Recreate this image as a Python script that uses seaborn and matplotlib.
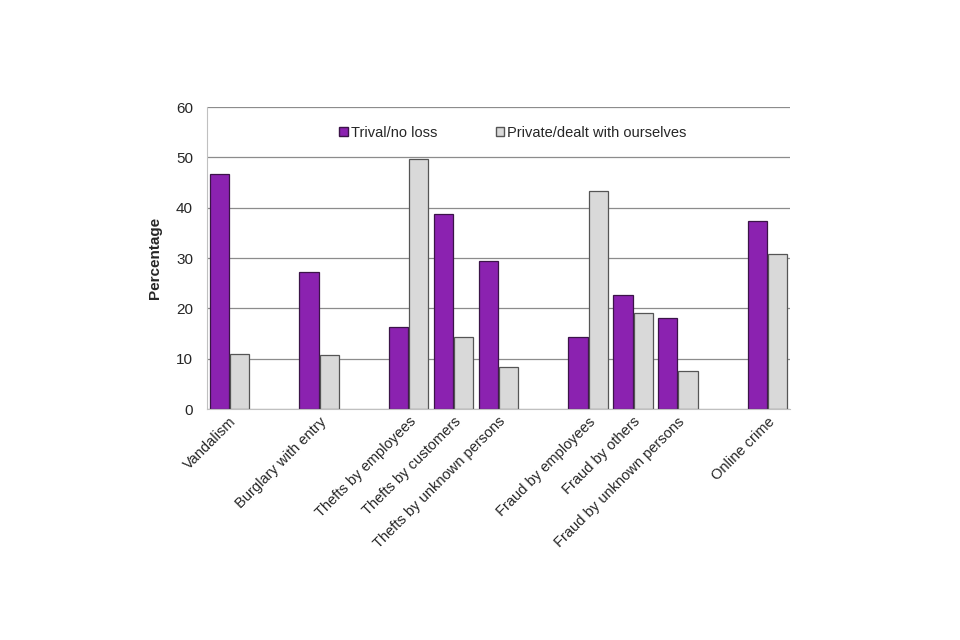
import pandas as pd
import numpy as np
import seaborn as sns
import matplotlib.pyplot as plt

sns.set_style('white')
plt.rcParams['font.family'] = ['Liberation Sans', 'DejaVu Sans']

# blank strings are spacer slots between crime groups
categories = ['Vandalism', ' ', 'Burglary with entry', '  ',
              'Thefts by employees', 'Thefts by customers', 'Thefts by unknown persons', '   ',
              'Fraud by employees', 'Fraud by others', 'Fraud by unknown persons', '    ',
              'Online crime']
trivial = [46.6, np.nan, 27.3, np.nan, 16.2, 38.7, 29.4, np.nan, 14.3, 22.7, 18.0, np.nan, 37.3]
private = [10.9, np.nan, 10.7, np.nan, 49.7, 14.3, 8.3, np.nan, 43.3, 19.0, 7.6, np.nan, 30.8]
series = ['Trival/no loss', 'Private/dealt with ourselves']
colors = ['#8b22b0', '#d9d9d9']
edges = ['#3b1448', '#555555']

df = pd.DataFrame({'Crime': categories * 2,
                   'Value': trivial + private,
                   'Reason': [series[0]] * len(categories) + [series[1]] * len(categories)})

fig = plt.figure(figsize=(9.6, 6.4), dpi=100)
ax = fig.add_axes([0.2156, 0.3609, 0.6073, 0.4719])

sns.barplot(data=df, x='Crime', y='Value', hue='Reason', order=categories,
            hue_order=series, palette=colors, saturation=1, width=0.9, gap=0.05, ax=ax)

# edge colour per series
for cont, ec in zip(ax.containers, edges):
    for bar in cont:
        bar.set_edgecolor(ec)
        bar.set_linewidth(0.9)

ax.set_ylim(0, 60)
ax.set_yticks(range(0, 61, 10))
ax.set_xlim(-0.5, len(categories) - 0.5)
ax.yaxis.grid(True, color='#8c8c8c', linewidth=0.9)
ax.set_axisbelow(True)

for s in ['top', 'right']:
    ax.spines[s].set_visible(False)
ax.spines['left'].set_color('#c0c0c0')
ax.spines['bottom'].set_color('#c0c0c0')

ax.tick_params(axis='y', length=4, color='#8c8c8c', labelsize=11, pad=6)
ax.tick_params(axis='x', length=0, labelsize=10.5, pad=4)
ax.set_xticks(range(len(categories)))
ax.set_xticklabels(categories, rotation=45, ha='right', rotation_mode='anchor')

ax.set_xlabel('')
ax.set_ylabel('Percentage', fontsize=11, fontweight='bold', labelpad=10)

handles, labels = ax.get_legend_handles_labels()
for h, ec in zip(handles, edges):
    h.set_edgecolor(ec)
ax.legend(handles, labels, loc='center', bbox_to_anchor=(0.525, 0.914), ncol=2,
          frameon=False, fontsize=10.5, handlelength=0.6, handleheight=0.6,
          handletextpad=0.2, columnspacing=4.0)

fig.savefig('out.png', dpi=100)
